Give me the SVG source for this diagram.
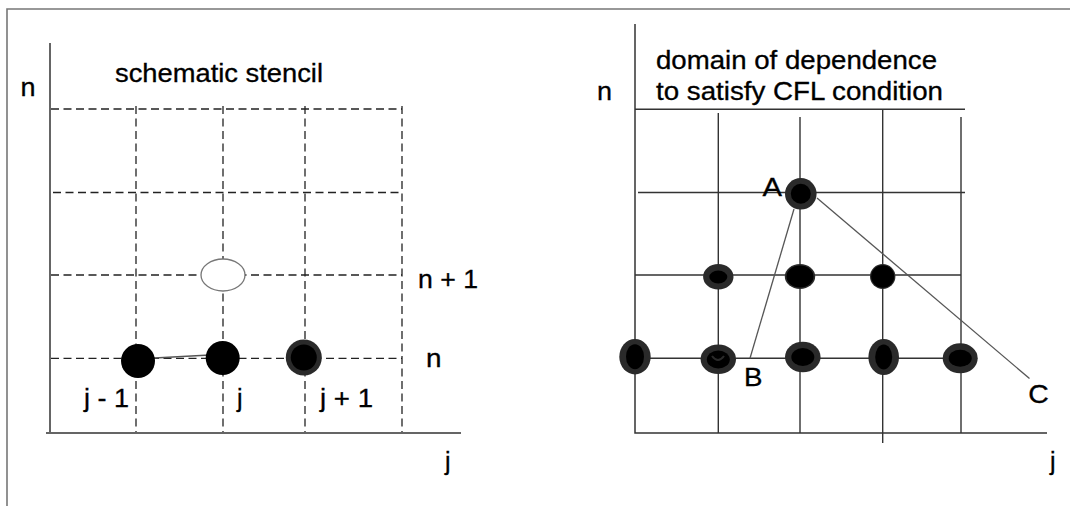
<svg xmlns="http://www.w3.org/2000/svg" width="1070" height="506" viewBox="0 0 1070 506">
<style>
text{font-family:"Liberation Sans",Arial,sans-serif;font-size:25px;fill:#000;stroke:#000;stroke-width:0.3}
.frame{stroke:#777;stroke-width:1.6;fill:none}
.axis{stroke:#333;stroke-width:1.5;fill:none}
.dash{stroke:#222;stroke-width:1.3;stroke-dasharray:8 4.5;fill:none}
.grid{stroke:#333;stroke-width:1.4;fill:none}
.conn{stroke:#555;stroke-width:1.3;fill:none}
.ring{fill:#2a2a2a}
.core{fill:#000}
</style>
<rect width="1070" height="506" fill="#fff"/>
<path class="frame" d="M7 506 V9 H1070"/>

<g id="left-panel">
  <path class="axis" d="M50 43 V432 M46 433 H461"/>
  <path class="dash" d="M51 109 H402 M53 192.5 H402 M51 275 H402 M51 358.3 H402"/>
  <path class="dash" d="M136 106 V432 M223 106 V432 M305 106 V432 M402 106 V432"/>
  <text x="20.5" y="96" textLength="15" lengthAdjust="spacingAndGlyphs">n</text>
  <text x="115" y="82.3" textLength="208" lengthAdjust="spacingAndGlyphs">schematic stencil</text>
  <text x="418" y="288.3" textLength="60" lengthAdjust="spacingAndGlyphs">n + 1</text>
  <text x="426" y="367.3" textLength="15.5" lengthAdjust="spacingAndGlyphs">n</text>
  <text x="84" y="406.5" textLength="45" lengthAdjust="spacingAndGlyphs">j - 1</text>
  <text x="237" y="406.5">j</text>
  <text x="320" y="406.5" textLength="53" lengthAdjust="spacingAndGlyphs">j + 1</text>
  <text x="445" y="470">j</text>
</g>

<g id="right-panel">
  <path class="axis" d="M635 24 V433 H1047"/>
  <path class="grid" d="M635 109.3 H965 M638 192.5 H965 M635 275 H961 M635 358.3 H961"/>
  <path class="grid" d="M718.3 113 V433 M800 117 V433 M882.7 110 V443 M961 117 V433"/>
  <text x="597" y="99.5" textLength="15" lengthAdjust="spacingAndGlyphs">n</text>
  <text x="656" y="69" textLength="281" lengthAdjust="spacingAndGlyphs">domain of dependence</text>
  <text x="656" y="99.5" textLength="287" lengthAdjust="spacingAndGlyphs">to satisfy CFL condition</text>
  <text x="762.5" y="196" textLength="19.5" lengthAdjust="spacingAndGlyphs">A</text>
  <text x="744" y="385.7" textLength="18.5" lengthAdjust="spacingAndGlyphs">B</text>
  <text x="1028.3" y="403" textLength="20.5" lengthAdjust="spacingAndGlyphs">C</text>
  <text x="1050" y="470">j</text>
</g>

<g id="connectors">
  <line class="conn" x1="136" y1="359" x2="219" y2="354.5"/>
  <line class="conn" x1="794" y1="209" x2="750" y2="358.3"/>
  <line class="conn" x1="817" y1="198" x2="1029.5" y2="378.5"/>
</g>

<g id="node-new"><ellipse cx="223" cy="275" rx="22" ry="16" fill="#fff" stroke="#777" stroke-width="1.3"/></g>
<g id="node-jm1"><circle cx="138" cy="361" r="17" class="core"/></g>
<g id="node-j"><circle cx="222.7" cy="358" r="17" class="core"/></g>
<g id="node-jp1"><circle cx="303.8" cy="357.5" r="18" class="ring"/><circle cx="303.8" cy="357.5" r="13" class="core"/></g>

<g id="node-A"><circle cx="800.8" cy="193.8" r="15.8" class="ring"/><circle cx="800.8" cy="193.8" r="10" class="core"/></g>
<g id="node-r1a"><ellipse cx="718.3" cy="276.7" rx="15.2" ry="12.8" class="ring"/><ellipse cx="718.3" cy="277" rx="9" ry="6.5" class="core"/></g>
<g id="node-r1b"><ellipse cx="800" cy="276.5" rx="15.2" ry="12.4" class="ring"/><ellipse cx="800" cy="276.5" rx="13.5" ry="11" class="core"/></g>
<g id="node-r1c"><ellipse cx="882.7" cy="276.5" rx="12.7" ry="12.4" class="ring"/><ellipse cx="882.7" cy="276.5" rx="11.5" ry="11.2" class="core"/></g>
<g id="node-r2a"><ellipse cx="635" cy="356.7" rx="15.7" ry="17.7" class="ring"/><ellipse cx="635" cy="356.7" rx="9" ry="12.5" class="core"/></g>
<g id="node-r2b"><ellipse cx="718.3" cy="359.2" rx="17.7" ry="14.8" class="ring"/><ellipse cx="718.3" cy="359.5" rx="11.5" ry="9" class="core"/><path d="M712 356 q6 8 12 0" fill="none" stroke="#2a2a2a" stroke-width="2"/></g>
<g id="node-r2c"><ellipse cx="802.8" cy="357" rx="17.8" ry="15.3" class="ring"/><ellipse cx="802.8" cy="357" rx="11.5" ry="9" class="core"/></g>
<g id="node-r2d"><ellipse cx="883.7" cy="357" rx="15.3" ry="18" class="ring"/><ellipse cx="883.7" cy="357" rx="8.5" ry="12.5" class="core"/></g>
<g id="node-r2e"><ellipse cx="960.2" cy="358.3" rx="17.5" ry="15" class="ring"/><ellipse cx="960.2" cy="358.3" rx="11.5" ry="8.5" class="core"/></g>
</svg>
